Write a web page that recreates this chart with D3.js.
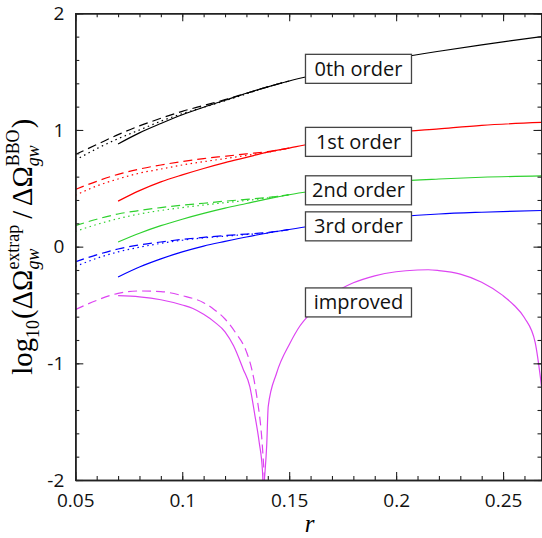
<!DOCTYPE html>
<html>
<head>
<meta charset="utf-8">
<script src="https://cdn.jsdelivr.net/npm/d3@7"></script>
<style>
  body { margin: 0; background: #fff; }
  svg { display: block; }
  .tick text { font-family: "Open Sans", sans-serif; font-size: 19px; fill: #111; }
</style>
</head>
<body>
<svg id="chart"></svg>
<script>
// r values and curves
var rSolid = [0.07, 0.08, 0.09, 0.10, 0.11, 0.12, 0.13, 0.14, 0.15, 0.16, 0.18, 0.20, 0.22, 0.24, 0.268];
var order0 = [0.88, 0.975, 1.055, 1.13, 1.195, 1.255, 1.315, 1.37, 1.42, 1.465, 1.545, 1.615, 1.675, 1.73, 1.80];
var order1 = [0.39, 0.48, 0.555, 0.615, 0.67, 0.72, 0.765, 0.81, 0.845, 0.88, 0.935, 0.98, 1.01, 1.04, 1.065];
var order2 = [0.04, 0.115, 0.18, 0.235, 0.285, 0.33, 0.37, 0.41, 0.445, 0.475, 0.525, 0.56, 0.58, 0.595, 0.606];
var order3 = [-0.26, -0.175, -0.105, -0.045, 0.005, 0.045, 0.083, 0.117, 0.147, 0.175, 0.22, 0.255, 0.28, 0.295, 0.31];

var rLeft = [0.05, 0.06, 0.07, 0.08, 0.09, 0.10, 0.11, 0.12, 0.13, 0.14, 0.15];
var order0Dash = [0.79, 0.875, 0.96, 1.035, 1.10, 1.16, 1.21, 1.26, 1.315, 1.37, 1.42];
var order0Dot  = [0.74, 0.84, 0.925, 1.00, 1.075, 1.14, 1.195, 1.25, 1.31, 1.37, 1.42];
var order1Dash = [0.49, 0.56, 0.62, 0.665, 0.70, 0.73, 0.755, 0.775, 0.795, 0.815, 0.845];
var order1Dot  = [0.44, 0.52, 0.58, 0.63, 0.665, 0.70, 0.728, 0.755, 0.782, 0.81, 0.845];
var order2Dash = [0.18, 0.235, 0.28, 0.31, 0.335, 0.355, 0.372, 0.39, 0.405, 0.422, 0.445];
var order2Dot  = [0.13, 0.19, 0.24, 0.28, 0.31, 0.335, 0.357, 0.377, 0.396, 0.418, 0.445];
var order3Dash = [-0.13, -0.07, -0.02, 0.015, 0.04, 0.062, 0.08, 0.095, 0.108, 0.122, 0.147];
var order3Dot  = [-0.17, -0.10, -0.045, -0.005, 0.028, 0.055, 0.075, 0.09, 0.104, 0.118, 0.147];

var rImproved = [0.07, 0.08, 0.09, 0.10, 0.105, 0.11, 0.115, 0.12, 0.124, 0.1285, 0.1316, 0.134, 0.136, 0.1375, 0.138,
                 0.1384, 0.1395, 0.1402, 0.1441, 0.1503, 0.155, 0.16, 0.17, 0.18, 0.19, 0.20, 0.21, 0.215, 0.22, 0.23,
                 0.24, 0.25, 0.255, 0.26, 0.265, 0.268];
var improved  = [-0.42, -0.43, -0.455, -0.50, -0.53, -0.58, -0.645, -0.73, -0.85, -1.05, -1.2, -1.45, -1.68, -1.92, -2.1,
                 -2.0, -1.7, -1.37, -1.085, -0.83, -0.68, -0.57, -0.41, -0.31, -0.25, -0.215, -0.20, -0.198, -0.205, -0.235,
                 -0.305, -0.42, -0.50, -0.61, -0.82, -1.2];
var rImprovedDash = [0.05, 0.06, 0.07, 0.08, 0.09, 0.10, 0.11, 0.115, 0.12, 0.125, 0.13, 0.1325, 0.135, 0.137, 0.1388];
var improvedDash  = [-0.54, -0.46, -0.40, -0.38, -0.385, -0.42, -0.48, -0.54, -0.62, -0.74, -0.90, -1.05, -1.30, -1.60, -2.1];

var labelText = ["0th order", "1st order", "2nd order", "3rd order", "improved"];
var labelR = [0.1824, 0.1824, 0.1824, 0.1824, 0.1824];
var labelY = [1.524, 0.898, 0.483, 0.174, -0.478];

var xMajor = [0.05, 0.1, 0.15, 0.2, 0.25];
var xMajorLabels = ["0.05", "0.1", "0.15", "0.2", "0.25"];
var xMinor = d3.range(0.05, 0.2681, 0.01);
var yMajor = [-2, -1, 0, 1, 2];
var yMinor = d3.range(-2, 2.001, 0.2);

var WIDTH = 542, HEIGHT = 538;
var padL = 75.3, padR = 541.5, padT = 13.3, padB = 480;

var svg = d3.select("#chart").attr("width", WIDTH).attr("height", HEIGHT);

var x = d3.scaleLinear().domain([0.05, 0.2682]).range([padL, 542]);
var y = d3.scaleLinear().domain([-2, 2]).range([padB, padT]);

svg.append("clipPath").attr("id", "plotclip")
  .append("rect").attr("x", padL).attr("y", padT).attr("width", 542 - padL).attr("height", padB - padT);

var line = d3.line()
  .x(function(d) { return x(d[0]); })
  .y(function(d) { return y(d[1]); })
  .curve(d3.curveMonotoneX);

function pairs(rs, vs) { return rs.map(function(r, i) { return [r, vs[i]]; }); }

var series = [
  { r: rSolid, v: order0, color: "#000", dash: null },
  { r: rLeft, v: order0Dash, color: "#000", dash: "9,5" },
  { r: rLeft, v: order0Dot, color: "#000", dash: "1.5,3.5" },
  { r: rSolid, v: order1, color: "#ff0000", dash: null },
  { r: rLeft, v: order1Dash, color: "#ff0000", dash: "9,5" },
  { r: rLeft, v: order1Dot, color: "#ff0000", dash: "1.5,3.5" },
  { r: rSolid, v: order2, color: "#2ed12e", dash: null },
  { r: rLeft, v: order2Dash, color: "#2ed12e", dash: "9,5" },
  { r: rLeft, v: order2Dot, color: "#2ed12e", dash: "1.5,3.5" },
  { r: rSolid, v: order3, color: "#0000ff", dash: null },
  { r: rLeft, v: order3Dash, color: "#0000ff", dash: "9,5" },
  { r: rLeft, v: order3Dot, color: "#0000ff", dash: "1.5,3.5" },
  { r: rImproved, v: improved, color: "#dd44f2", dash: null },
  { r: rImprovedDash, v: improvedDash, color: "#dd44f2", dash: "9,5" }
];

var g = svg.append("g").attr("clip-path", "url(#plotclip)");
g.selectAll("path.curve")
  .data(series)
  .enter()
  .append("path")
  .attr("class", "curve")
  .attr("d", function(d) { return line(pairs(d.r, d.v)); })
  .attr("fill", "none")
  .attr("stroke", function(d) { return d.color; })
  .attr("stroke-width", 1.2)
  .attr("stroke-dasharray", function(d) { return d.dash; });

// label boxes sit on top of the curves
var boxW = 106, boxH = 29;
var lab = svg.selectAll("g.lab")
  .data(labelText)
  .enter()
  .append("g")
  .attr("class", "lab")
  .attr("transform", function(d, i) { return "translate(" + x(labelR[i]) + "," + y(labelY[i]) + ")"; });
lab.append("rect")
  .attr("x", -boxW / 2).attr("y", -boxH / 2)
  .attr("width", boxW).attr("height", boxH)
  .attr("fill", "#fff").attr("stroke", "#444").attr("stroke-width", 1.3);
lab.append("text")
  .attr("text-anchor", "middle")
  .attr("y", 7)
  .style("font-family", "'Open Sans', sans-serif")
  .style("font-size", "20px")
  .attr("fill", "#111")
  .text(function(d) { return d; });

// axes, ticks pointing inwards
function styleAxis(sel) {
  sel.selectAll("path.domain").attr("stroke", "#222").attr("stroke-width", 1.6);
  sel.selectAll(".tick line").attr("stroke", "#222").attr("stroke-width", 1.1);
}
svg.append("g").attr("transform", "translate(0," + padB + ")")
  .call(d3.axisBottom(x).tickValues(xMinor).tickSize(-4).tickSizeOuter(0).tickFormat(""))
  .call(styleAxis);
svg.append("g").attr("transform", "translate(0," + padB + ")")
  .call(d3.axisBottom(x).tickValues(xMajor).tickSize(-8).tickSizeOuter(0).tickPadding(14)
    .tickFormat(function(d, i) { return xMajorLabels[i]; }))
  .call(styleAxis);
svg.append("g").attr("transform", "translate(0," + padT + ")")
  .call(d3.axisTop(x).tickValues(xMinor).tickSize(-4).tickSizeOuter(0).tickFormat(""))
  .call(styleAxis);
svg.append("g").attr("transform", "translate(0," + padT + ")")
  .call(d3.axisTop(x).tickValues(xMajor).tickSize(-8).tickSizeOuter(0).tickFormat(""))
  .call(styleAxis);
svg.append("g").attr("transform", "translate(" + padL + ",0)")
  .call(d3.axisLeft(y).tickValues(yMinor).tickSize(-4).tickSizeOuter(0).tickFormat(""))
  .call(styleAxis);
svg.append("g").attr("transform", "translate(" + padL + ",0)")
  .call(d3.axisLeft(y).tickValues(yMajor).tickSize(-8).tickSizeOuter(0).tickPadding(11)
    .tickFormat(function(d) { return String(d); }))
  .call(styleAxis);
svg.append("g").attr("transform", "translate(" + padR + ",0)")
  .call(d3.axisRight(y).tickValues(yMinor).tickSize(-4).tickSizeOuter(0).tickFormat(""))
  .call(styleAxis);
svg.append("g").attr("transform", "translate(" + padR + ",0)")
  .call(d3.axisRight(y).tickValues(yMajor).tickSize(-8).tickSizeOuter(0).tickFormat(""))
  .call(styleAxis);

// x label
svg.append("text")
  .attr("x", (padL + 542) / 2 + 1)
  .attr("y", 532)
  .attr("text-anchor", "middle")
  .style("font-family", "'Liberation Serif', serif")
  .style("font-style", "italic")
  .style("font-size", "25px")
  .text("r");

// y label: log10(ΔΩ_gw^extrap / ΔΩ_gw^BBO), built piece by piece
var yl = svg.append("g");
var inner = yl.append("g");
var cur = 0;
function piece(txt, size, dy, italic) {
  var t = inner.append("text")
    .attr("x", cur).attr("y", dy)
    .style("font-family", "'Liberation Serif', serif")
    .style("font-size", size + "px")
    .style("font-style", italic ? "italic" : "normal")
    .text(txt);
  return t.node().getComputedTextLength();
}
function stack(sup, sub) {
  var a = piece(sup, 15, -11, false);
  var b = piece(sub, 15, 6, true);
  cur += Math.max(a, b) + 1;
}
cur += piece("log", 24, 0, false);
cur += piece("10", 15, 6, false) + 1;
cur += piece("(", 24, 0, false);
cur += piece("\u0394\u03A9", 24, 0, false);
stack("extrap", "gw");
cur += 4;
cur += piece("/", 24, 0, false);
cur += 4;
cur += piece("\u0394\u03A9", 24, 0, false);
stack("BBO", "gw");
cur += piece(")", 24, 0, false);
var sc = 256 / cur;
inner.attr("transform", "scale(" + sc + ") translate(" + (-cur / 2) + ",0)");
yl.attr("transform", "translate(32," + y(0) + ") rotate(-90)");
</script>
</body>
</html>
